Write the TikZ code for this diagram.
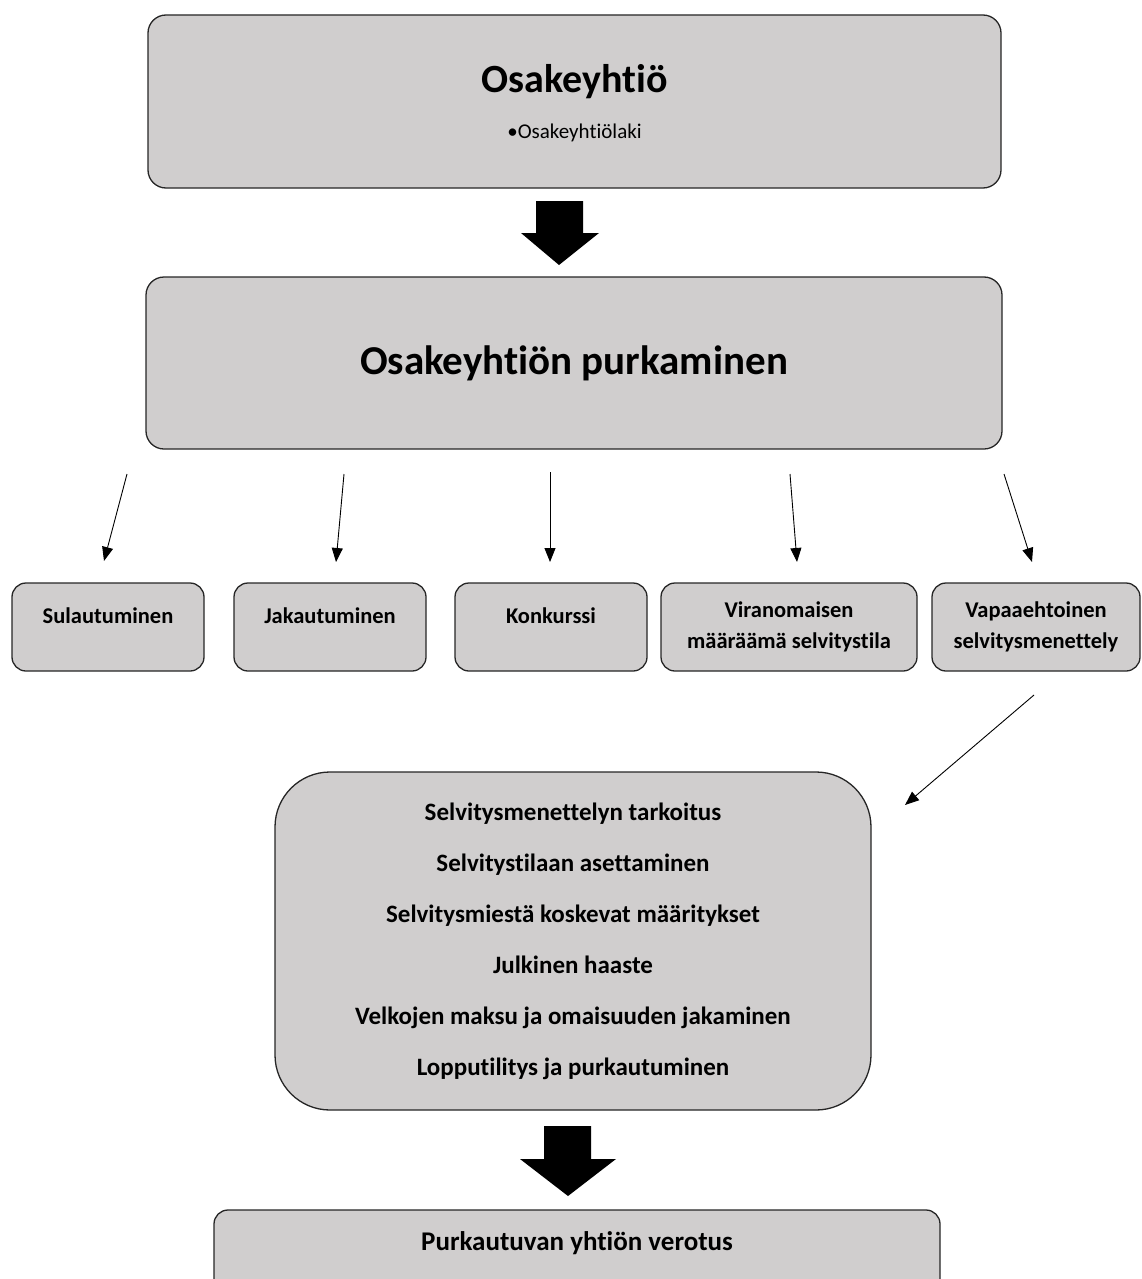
\documentclass[tikz,border=0pt]{standalone}
\usepackage{fontspec}
\setmainfont[Ligatures=NoCommon]{Carlito}
\usetikzlibrary{positioning,calc,arrows.meta}

\definecolor{boxgray}{RGB}{208,206,206}

\tikzset{
  box/.style={draw=black!85, fill=boxgray, line width=1.3pt, rounded corners=18pt,
    inner sep=0pt, align=center, font=\bfseries},
  smallbox/.style={box, rounded corners=14pt, minimum height=88pt,
    font=\fontsize{22.5}{31}\selectfont\bfseries},
  oneline/.style={text height=15pt, text depth=23pt},
  thinarrow/.style={-{Triangle[length=14pt,width=11pt]}, line width=0.9pt},
  fatarrow/.style={fill=black}
}

\begin{document}
\begin{tikzpicture}[x=1pt,y=-1pt]
\useasboundingbox (0,0) rectangle (1141,1279);

% Osakeyhtio
\node[box, minimum width=853pt, minimum height=173pt, text depth=0pt] (oy) at (574.5,101.5)
  {{\fontsize{40}{44}\selectfont Osakeyhtiö}\\[24pt]{\fontsize{21}{24}\selectfont\mdseries •Osakeyhtiölaki}};
\fill[fatarrow] (536,201) -- (583,201) -- (583,233) -- (599,233) -- (559,265) -- (521,233) -- (536,233) -- cycle;

% Purkaminen
\node[box, minimum width=856pt, minimum height=172pt, font=\fontsize{41}{48}\selectfont\bfseries]
  (purk) at (574,363) {Osakeyhtiön purkaminen};

% Purkutavat
\node[smallbox, oneline, minimum width=192pt] (sul) at (108,627) {Sulautuminen};
\node[smallbox, oneline, minimum width=192pt] (jak) at (330,627) {Jakautuminen};
\node[smallbox, oneline, minimum width=192pt] (kon) at (551,627) {Konkurssi};
\node[smallbox, minimum width=256pt] (vir) at (789,627) {Viranomaisen\\määräämä selvitystila};
\node[smallbox, minimum width=208pt] (vap) at (1036,627) {Vapaaehtoinen\\selvitysmenettely};

\coordinate (s1) at (127,474); \coordinate (e1) at (104,561);
\coordinate (s2) at (344,474); \coordinate (e2) at (336,562);
\coordinate (s3) at (550,472); \coordinate (e3) at (550,562);
\coordinate (s4) at (790,474); \coordinate (e4) at (797,562);
\coordinate (s5) at (1004,474); \coordinate (e5) at (1032,562);
\foreach \i in {1,...,5}
  \draw[thinarrow] (s\i) -- (e\i);

% Selvitysmenettely
\node[box, rounded corners=55pt, minimum width=596pt, minimum height=338pt,
  font=\fontsize{25}{51}\selectfont\bfseries] (selv) at (573,941)
  {Selvitysmenettelyn tarkoitus\\Selvitystilaan asettaminen\\Selvitysmiestä koskevat määritykset\\Julkinen haaste\\Velkojen maksu ja omaisuuden jakaminen\\Lopputilitys ja purkautuminen};
\coordinate (s6) at (1034,695); \coordinate (e6) at (905,805);
\draw[thinarrow] (s6) -- (e6);

% Verotus
\fill[fatarrow] (544,1126) -- (591,1126) -- (591,1159) -- (616,1159) -- (568,1196) -- (520,1159) -- (544,1159) -- cycle;
\node[box, rounded corners=14pt, minimum width=726pt, minimum height=90pt,
  font=\fontsize{27}{31}\selectfont\bfseries, text height=19pt, text depth=29pt]
  (vero) at (577,1255) {Purkautuvan yhtiön verotus};

\end{tikzpicture}
\end{document}
